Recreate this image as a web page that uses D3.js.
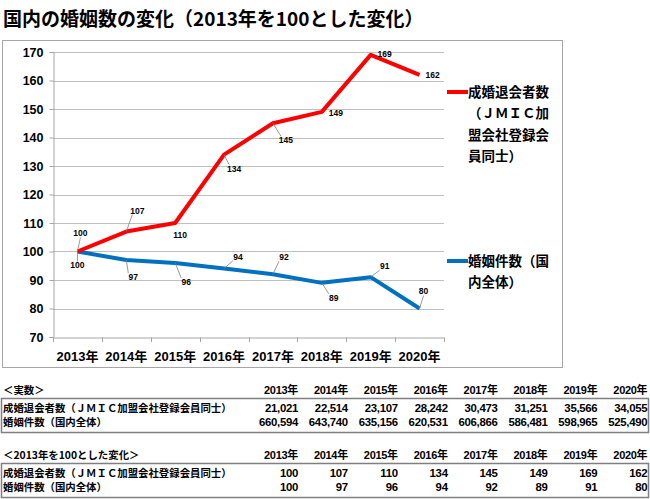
<!DOCTYPE html>
<html><head><meta charset="utf-8">
<script src="https://cdn.jsdelivr.net/npm/d3@7/dist/d3.min.js"></script>
<style>body{margin:0;background:#fff}svg{display:block}</style>
</head><body>
<script>
const years = ["2013年","2014年","2015年","2016年","2017年","2018年","2019年","2020年"];
const seriesNames = ["成婚退会者数（ＪＭＩＣ加盟会社登録会員同士）","婚姻件数（国内全体）"];
const jmicIndex = [100,107,110,134,145,149,169,162];
const nationalIndex = [100,97,96,94,92,89,91,80];
const jmicActual = ["21,021","22,514","23,107","28,242","30,473","31,251","35,566","34,055"];
const nationalActual = ["660,594","643,740","635,156","620,531","606,866","586,481","598,965","525,490"];
const yTicks = [70,80,90,100,110,120,130,140,150,160,170];
const title = "国内の婚姻数の変化（2013年を100とした変化）";
const legendLines1 = ["成婚退会者数","（ＪＭＩＣ加","盟会社登録会","員同士）"];
const legendLines2 = ["婚姻件数（国","内全体）"];
const table1Title = "＜実数＞";
const table2Title = "＜2013年を100とした変化＞";

const W=650,H=499;
const svg=d3.select("body").append("svg").attr("width",W).attr("height",H);
const jp="'Noto Sans CJK JP','Noto Sans',sans-serif";
const lat="'Liberation Sans',Arial,sans-serif";
const latjp="'Liberation Sans','Noto Sans CJK JP',sans-serif";

svg.append("text").attr("x",3).attr("y",26).attr("font-family",jp).attr("font-weight","bold")
  .attr("font-size",19).attr("fill","#000").text(title);

svg.append("rect").attr("x",2.5).attr("y",40.5).attr("width",560).attr("height",327)
  .attr("fill","#fff").attr("stroke","#a6a6a6");

const x=d3.scaleBand().domain(years).range([53,444]);
const y=d3.scaleLinear().domain([70,170]).range([337,52]);
const g=svg.append("g");

// grid
g.selectAll("line.grid").data(yTicks.slice(1)).join("line")
  .attr("x1",53).attr("x2",444).attr("y1",d=>Math.round(y(d))+0.5).attr("y2",d=>Math.round(y(d))+0.5)
  .attr("stroke","#bfbfbf").attr("stroke-width",1);

const yAxis=g.append("g").attr("transform","translate(53.5,0)")
  .call(d3.axisLeft(y).tickValues(yTicks).tickSize(4).tickPadding(6));
const xAxis=g.append("g").attr("transform",`translate(0,${Math.round(y(70))+0.5})`)
  .call(d3.axisBottom(x).tickSize(0).tickPadding(14));
[yAxis,xAxis].forEach(a=>{a.select(".domain").attr("stroke","#a6a6a6");a.selectAll(".tick line").attr("stroke","#a6a6a6");
  a.selectAll("text").attr("font-family",lat).attr("font-weight","bold").attr("fill","#000");});
yAxis.selectAll("text").attr("font-size",12.5);
xAxis.selectAll("text").attr("font-size",13).attr("font-family",latjp);
// x tick marks at band edges
const edges=years.map(d=>x(d)).concat([x.range()[1]]);
g.selectAll("line.xt").data(edges).join("line").attr("x1",d=>Math.round(d)+0.5).attr("x2",d=>Math.round(d)+0.5)
  .attr("y1",Math.round(y(70))+0.5).attr("y2",Math.round(y(70))+5).attr("stroke","#a6a6a6");

const line=d3.line().x((d,i)=>x(years[i])+x.bandwidth()/2).y(d=>y(d));
g.append("path").datum(nationalIndex).attr("d",line).attr("fill","none").attr("stroke","#0070c0")
  .attr("stroke-width",4).attr("stroke-linejoin","round");
g.append("path").datum(jmicIndex).attr("d",line).attr("fill","none").attr("stroke","#ff0000")
  .attr("stroke-width",4).attr("stroke-linejoin","round");

// data labels: label offsets (dx,dy) from point and whether leader shown
const redLab=[[3,-18,1],[11,-21,1],[5,12,0],[10,14,1],[13,17,1],[14,1,0],[14,-1,0],[13,0,0]];
const blueLab=[[0,14,1],[7,17,1],[11,19,1],[14,-12,1],[11,-17,1],[12,15,1],[14,-11,1],[4,-17,1]];
function labels(vals,offs){
  vals.forEach((v,i)=>{
    const px=x(years[i])+x.bandwidth()/2, py=y(v), o=offs[i];
    const lx=px+o[0], ly=py+o[1];
    if(o[2]){
      g.append("line").attr("x1",px).attr("y1",py).attr("x2",lx-(o[0]>6?5:0)).attr("y2",ly+(o[1]<0?4:-4))
        .attr("stroke","#7f7f7f").attr("stroke-width",0.8);
    }
    g.append("text").attr("x",lx).attr("y",ly).attr("dy","0.35em").attr("text-anchor","middle")
      .attr("font-family",lat).attr("font-weight","bold").attr("font-size",8.5).attr("fill","#000").text(v);
  });
}
labels(jmicIndex,redLab);
labels(nationalIndex,blueLab);

// legend
function legend(lines,color,y0){
  svg.append("line").attr("x1",447).attr("x2",468).attr("y1",y0).attr("y2",y0).attr("stroke",color).attr("stroke-width",4);
  lines.forEach((t,i)=>svg.append("text").attr("x",468).attr("y",y0+i*21.5).attr("dy","0.35em")
    .attr("font-family",jp).attr("font-weight","bold").attr("font-size",13.5).attr("fill","#000").text(t));
}
legend(legendLines1,"#ff0000",92);
legend(legendLines2,"#0070c0",261);

// tables
const colRight=years.map((d,i)=>298+i*49.9);
function table(titleText,rows,top){
  const f=10.4;
  svg.append("text").attr("x",3).attr("y",top).attr("dy","0.35em").attr("font-family",jp).attr("font-weight","bold")
    .attr("font-size",f).text(titleText);
  years.forEach((yr,i)=>svg.append("text").attr("x",colRight[i]).attr("y",top).attr("dy","0.35em").attr("text-anchor","end")
    .attr("font-family",latjp).attr("font-weight","bold").attr("font-size",f+0.6).attr("letter-spacing",-0.3).text(yr));
  svg.append("rect").attr("x",1.5).attr("y",top+8.5).attr("width",647).attr("height",34)
    .attr("fill","none").attr("stroke","#7f7f7f").attr("stroke-width",1.5);
  rows.forEach((r,j)=>{
    const ry=top+18+j*14.5;
    svg.append("text").attr("x",3).attr("y",ry).attr("dy","0.35em").attr("font-family",jp).attr("font-weight","bold")
      .attr("font-size",f).text(r.name);
    r.vals.forEach((v,i)=>svg.append("text").attr("x",colRight[i]).attr("y",ry).attr("dy","0.35em").attr("text-anchor","end")
      .attr("font-family",lat).attr("font-weight","bold").attr("font-size",f+1).attr("letter-spacing",-0.3).text(v));
  });
}
table(table1Title,[{name:seriesNames[0],vals:jmicActual},{name:seriesNames[1],vals:nationalActual}],390);
table(table2Title,[{name:seriesNames[0],vals:jmicIndex},{name:seriesNames[1],vals:nationalIndex}],455);
</script>
</body></html>
